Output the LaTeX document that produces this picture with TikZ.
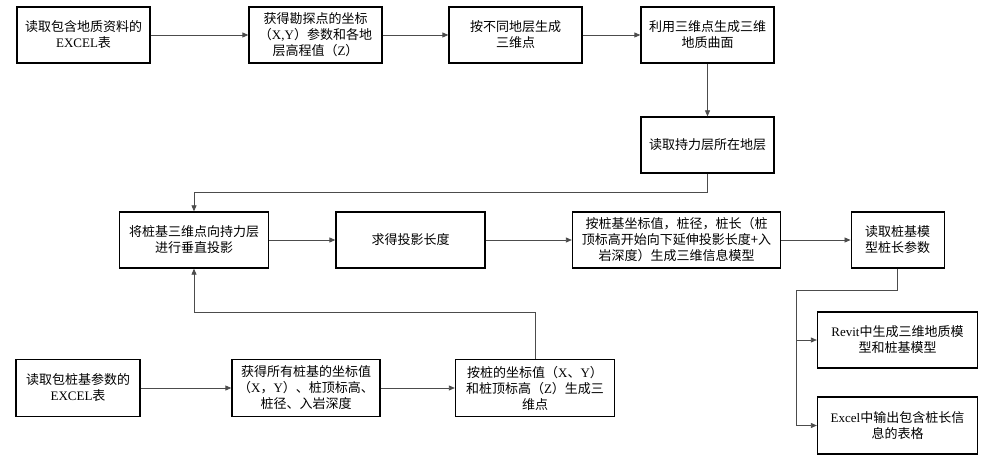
\documentclass[tikz,border=0pt]{standalone}
\usepackage{fontspec}
\setmainfont{Noto Sans CJK SC}
\newfontfamily\latfont{Liberation Serif}
\newcommand{\en}[1]{{\latfont #1}}
\usetikzlibrary{arrows.meta}

\tikzset{
  stepbox/.style={draw=black, line width=1.3pt, fill=white, align=center, inner sep=2pt,
    minimum height=56pt, font=\fontsize{13}{16}\selectfont},
  link/.style={draw=black!70, line width=0.8pt, -{Triangle[length=6pt,width=5pt]}},
}

\begin{document}
\begin{tikzpicture}[x=1pt, y=-1pt]
\useasboundingbox (0,0) rectangle (987,462);

% Geological data row
\node[stepbox, minimum width=133pt] (readgeo) at (83.5,35) {读取包含地质资料的\\\en{EXCEL}表};
\node[stepbox, minimum width=133pt] (coords) at (315.5,35) {获得勘探点的坐标\\（\en{X,Y}）参数和各地\\层高程值（\en{Z}）};
\node[stepbox, minimum width=133pt] (points) at (515.5,35) {按不同地层生成\\三维点};
\node[stepbox, minimum width=133pt] (surface) at (707.5,35) {利用三维点生成三维\\地质曲面};
\node[stepbox, minimum width=133pt] (bearing) at (707.5,145) {读取持力层所在地层};

% Projection row
\node[stepbox, minimum width=149pt] (project) at (194,240) {将桩基三维点向持力层\\进行垂直投影};
\node[stepbox, minimum width=149pt] (length) at (410.5,240) {求得投影长度};
\node[stepbox, minimum width=208pt] (model) at (676.5,240) {按桩基坐标值，桩径，桩长（桩\\顶标高开始向下延伸投影长度+入\\岩深度）生成三维信息模型};
\node[stepbox, minimum width=93pt] (pilelen) at (897.7,240) {读取桩基模\\型桩长参数};

% Outputs
\node[stepbox, minimum width=160pt] (revit) at (897.5,340) {\en{Revit}中生成三维地质模\\型和桩基模型};
\node[stepbox, minimum width=160pt, minimum height=57pt] (excel) at (897.5,425.5) {\en{Excel}中输出包含桩长信\\息的表格};

% Pile data row
\node[stepbox, minimum width=124pt, minimum height=57pt] (readpile) at (78,388) {读取包桩基参数的\\\en{EXCEL}表};
\node[stepbox, minimum width=148pt, minimum height=57pt] (pilecoords) at (306,388) {获得所有桩基的坐标值\\（\en{X}，\en{Y}）、桩顶标高、\\桩径、入岩深度};
\node[stepbox, minimum width=159pt, minimum height=57pt] (pilepoints) at (535,388) {按桩的坐标值（\en{X}、\en{Y}）\\和桩顶标高（\en{Z}）生成三\\维点};

% Connectors
\draw[link] (readgeo) -- (coords);
\draw[link] (coords) -- (points);
\draw[link] (points) -- (surface);
\draw[link] (surface) -- (bearing);
\draw[link] (bearing.south) -- ++(0,19) -| (project.north);
\draw[link] (project) -- (length);
\draw[link] (length) -- (model);
\draw[link] (model) -- (pilelen);
\draw[link] (pilelen.south) -- ++(0,22) -| ([xshift=-20pt]excel.west) -- (excel.west);
\draw[link] ([xshift=-20pt]revit.west) -- (revit.west);
\draw[link] (readpile) -- (pilecoords);
\draw[link] (pilecoords) -- (pilepoints);
\draw[link] (pilepoints.north) -- ++(0,-46) -| (project.south);
\end{tikzpicture}
\end{document}
